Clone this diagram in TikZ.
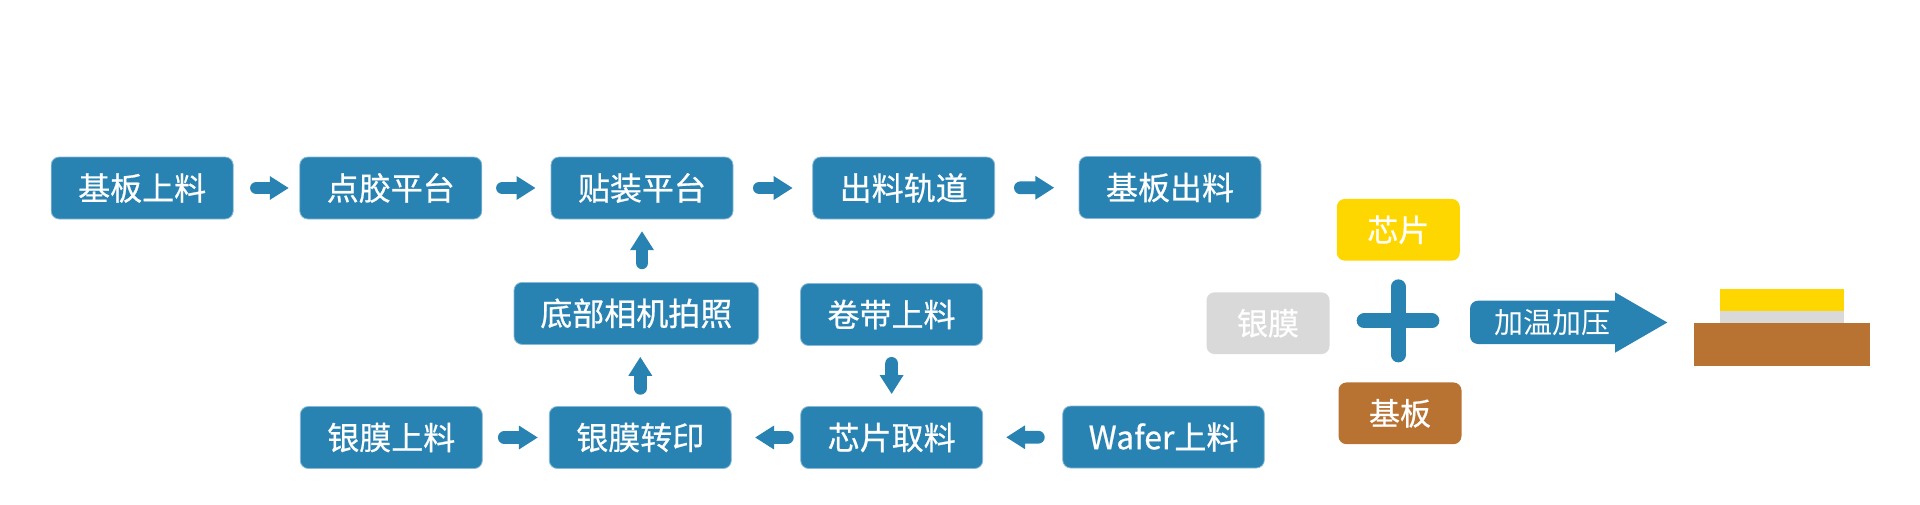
\documentclass[tikz,border=0pt]{standalone}
\usepackage{fontspec}
\newfontfamily\cjk{Noto Sans CJK SC}
\newfontfamily\cjkmed{Noto Sans CJK SC}[FakeBold=0.6]
\usetikzlibrary{arrows.meta}
\definecolor{flowblue}{RGB}{40,130,178}
\definecolor{chipyellow}{RGB}{255,215,0}
\definecolor{silvergrey}{RGB}{217,217,217}
\definecolor{copper}{RGB}{184,115,51}
\begin{document}
\begin{tikzpicture}[x=1pt,y=-1pt,
  stepbox/.style={rounded corners=8pt, fill=flowblue, draw=flowblue!55!white, line width=0.8pt,
    text=white, minimum width=182pt, minimum height=62pt, inner sep=0pt,
    font=\cjkmed\fontsize{32}{38}\selectfont},
  partbox/.style={rounded corners=8pt, minimum width=123pt, minimum height=61.7pt, inner sep=0pt,
    text=white, font=\cjkmed\fontsize{31}{36}\selectfont},
  flow/.style={draw=flowblue, line width=12.8pt, line cap=round,
    -{Triangle[width=22.5pt,length=19pt]}},
]
\useasboundingbox (0,0) rectangle (1920,504);
\fill[white] (0,0) rectangle (1920,504);

% row 1
\node[stepbox] (b1) at (142.2,188) {基板上料};
\node[stepbox] (b2) at (390.8,188) {点胶平台};
\node[stepbox] (b3) at (642,188) {贴装平台};
\node[stepbox] (b4) at (903.7,188) {出料轨道};
\node[stepbox] (b5) at (1170,187.5) {基板出料};
% row 2
\node[stepbox, minimum width=244.6pt] (cam) at (636.3,313.4) {底部相机拍照};
\node[stepbox] (tape) at (891.5,314.5) {卷带上料};
% row 3
\node[stepbox] (m1) at (391.3,437.5) {银膜上料};
\node[stepbox] (m2) at (640.3,437.5) {银膜转印};
\node[stepbox] (pick) at (891.7,437.5) {芯片取料};
\node[stepbox, minimum width=201.6pt] (wafer) at (1163.5,437) {Wafer上料};

% connectors
\draw[flow, shorten <=22.9pt, shorten >=10.6pt] (b1) -- (b2);
\draw[flow, shorten <=20.3pt, shorten >=15pt] (b2) -- (b3);
\draw[flow, shorten <=26pt, shorten >=19.6pt] (b3) -- (b4);
\draw[flow, shorten <=25.3pt, shorten >=24.3pt] (b4) -- (b5);
\draw[flow, shorten <=21.6pt, shorten >=11pt] (m1) -- (m2);
\draw[flow, shorten <=13pt, shorten >=23.3pt] (pick) -- (m2);
\draw[flow, shorten <=24pt, shorten >=23pt] (wafer) -- (pick);
\draw[flow, shorten <=17.8pt, shorten >=12pt] (m2.north) -- (m2.north |- cam.south);
\draw[flow, shorten <=19.2pt, shorten >=11.7pt] (b3.south |- cam.north) -- (b3.south);
\draw[flow, shorten <=17.5pt, shorten >=12pt] (tape.south) -- (pick.north);

% right side
\node[partbox, fill=chipyellow] (chip) at (1398.3,229.8) {芯片};
\node[partbox, fill=silvergrey] (silver) at (1268,323.2) {银膜};
\node[partbox, fill=copper] (sub) at (1400,413.3) {基板};
\draw[flowblue, line width=14.7pt, line cap=round] (1398.3,286.7) -- (1398.3,355);
\draw[flowblue, line width=14.7pt, line cap=round] (1364,320.8) -- (1432,320.8);

\fill[flowblue, rounded corners=8pt] (1470,300.7) rectangle (1625,344);
\fill[flowblue] (1615,292.3) -- (1667.3,322.5) -- (1615,352.7) -- cycle;
\node[text=white, inner sep=0pt, font=\cjk\fontsize{29}{34}\selectfont] (heat) at (1552,322.5) {加温加压};

\fill[chipyellow] (1720,289.3) rectangle (1844,311);
\fill[silvergrey] (1720,311) rectangle (1844,323.3);
\fill[copper] (1694.3,323.3) rectangle (1870,365.7);
\end{tikzpicture}
\end{document}
